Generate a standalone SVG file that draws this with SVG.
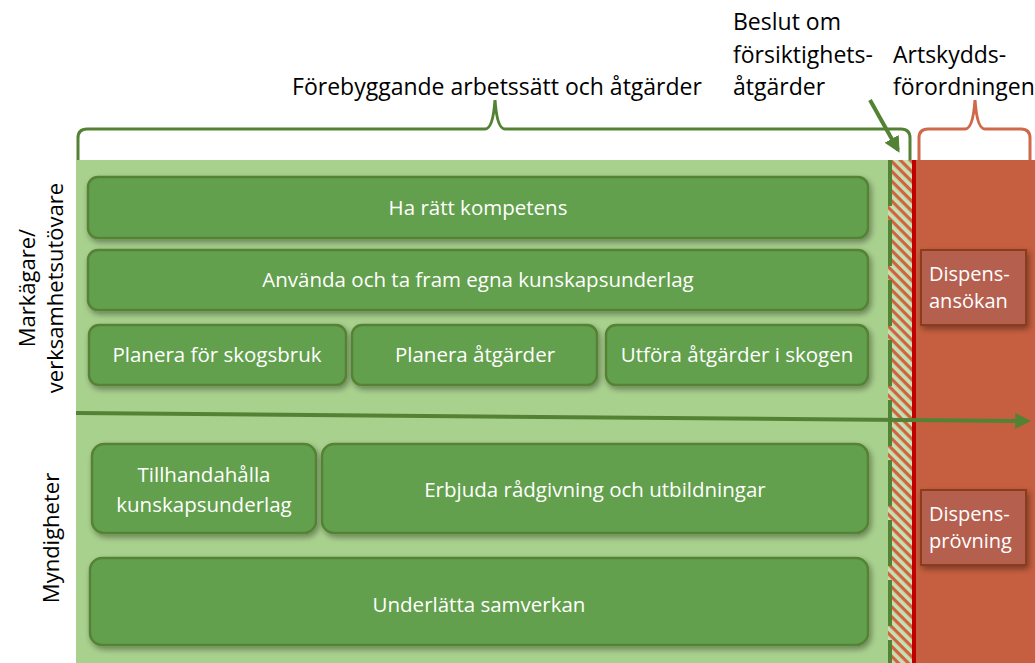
<svg xmlns="http://www.w3.org/2000/svg" width="1035" height="663" viewBox="0 0 1035 663">
<defs>
<style>
.t{font-family:"Open Sans","Liberation Sans",sans-serif;font-size:23px;fill:#000}
.r{font-family:"Open Sans","Liberation Sans",sans-serif;font-size:22px;fill:#000;text-anchor:middle}
.bt{font-family:"Open Sans","Liberation Sans",sans-serif;font-size:20.5px;fill:#fff;text-anchor:middle}
.dt{font-family:"Open Sans","Liberation Sans",sans-serif;font-size:20px;fill:#fff}
.box{fill:#63a04d;stroke:#548235;stroke-width:2.5;filter:url(#sh)}
.dbox{fill:#b5604f;stroke:#8c3a1e;stroke-width:2;filter:url(#sh)}
</style>
<filter id="sh" x="-10%" y="-20%" width="120%" height="150%">
<feGaussianBlur in="SourceAlpha" stdDeviation="3"/>
<feOffset dx="2" dy="3" result="b"/>
<feComponentTransfer><feFuncA type="linear" slope="0.4"/></feComponentTransfer>
<feMerge><feMergeNode/><feMergeNode in="SourceGraphic"/></feMerge>
</filter>
<pattern id="hatch" patternUnits="userSpaceOnUse" width="7" height="7" patternTransform="rotate(45)">
<rect width="7" height="7" fill="#c5e0b4"/>
<rect width="7" height="3.2" fill="#d0643f"/>
</pattern>
<marker id="ag" viewBox="0 0 10 10" refX="8" refY="5" markerWidth="4" markerHeight="4" orient="auto" markerUnits="strokeWidth">
<path d="M0,0 L10,5 L0,10 z" fill="#548235"/>
</marker>
</defs>
<g id="background">
<rect x="76" y="160" width="812" height="503" fill="#a9d18e"/>
<rect x="888" y="160" width="24" height="503" fill="url(#hatch)"/>
<rect x="912" y="160" width="4" height="503" fill="#c00000"/>
<rect x="916" y="160" width="119" height="503" fill="#c65f3f"/>
<line x1="890" y1="160" x2="890" y2="663" stroke="#548235" stroke-width="4" stroke-dasharray="46,14"/>
</g>
<g id="braces" fill="none" stroke-width="3">
<path d="M78,160 L78,138 Q78,129 87,129 L485,129 Q493,129 495,100 Q497,129 505,129 L901,129 Q910,129 910,138 L910,160" stroke="#548235"/>
<path d="M919,160 L919,138 Q919,129 928,129 L965,129 Q973,129 975,100 Q977,129 985,129 L1021,129 Q1030,129 1030,138 L1030,160" stroke="#d0694a"/>
</g>
<g id="labels">
<text class="t" x="497" y="95" text-anchor="middle">Förebyggande arbetssätt och åtgärder</text>
<text class="t" x="733" y="30">Beslut om</text>
<text class="t" x="733" y="63">försiktighets-</text>
<text class="t" x="733" y="95">åtgärder</text>
<text class="t" x="893" y="63">Artskydds-</text>
<text class="t" x="893" y="95">förordningen</text>
<text class="r" transform="translate(35,288) rotate(-90)">Markägare/</text>
<text class="r" transform="translate(63,288) rotate(-90)">verksamhetsutövare</text>
<text class="r" transform="translate(59,538) rotate(-90)">Myndigheter</text>
</g>
<g id="connectors">
<line x1="76" y1="413" x2="1028" y2="421" stroke="#548235" stroke-width="4" marker-end="url(#ag)"/>
<line x1="870" y1="100" x2="898" y2="150" stroke="#548235" stroke-width="4" marker-end="url(#ag)"/>
</g>
<g id="n1"><rect class="box" x="88" y="177" width="780" height="61" rx="10"/><text class="bt" x="478" y="215">Ha rätt kompetens</text></g>
<g id="n2"><rect class="box" x="88" y="250" width="780" height="60" rx="10"/><text class="bt" x="478" y="287">Använda och ta fram egna kunskapsunderlag</text></g>
<g id="n3"><rect class="box" x="89" y="325" width="257" height="60" rx="10"/><text class="bt" x="217" y="362">Planera för skogsbruk</text></g>
<g id="n4"><rect class="box" x="352" y="325" width="245" height="60" rx="10"/><text class="bt" x="475" y="362">Planera åtgärder</text></g>
<g id="n5"><rect class="box" x="606" y="325" width="262" height="60" rx="10"/><text class="bt" x="737" y="362">Utföra åtgärder i skogen</text></g>
<g id="n6"><rect class="box" x="92" y="444" width="224" height="89" rx="12"/><text class="bt" x="204" y="482">Tillhandahålla</text><text class="bt" x="204" y="512">kunskapsunderlag</text></g>
<g id="n7"><rect class="box" x="322" y="444" width="546" height="89" rx="12"/><text class="bt" x="595" y="497">Erbjuda rådgivning och utbildningar</text></g>
<g id="n8"><rect class="box" x="90" y="558" width="778" height="87" rx="12"/><text class="bt" x="479" y="612">Underlätta samverkan</text></g>
<g id="n9"><rect class="dbox" x="921" y="250" width="105" height="75"/><text class="dt" x="929" y="281">Dispens-</text><text class="dt" x="929" y="308">ansökan</text></g>
<g id="n10"><rect class="dbox" x="921" y="490" width="105" height="75"/><text class="dt" x="929" y="521">Dispens-</text><text class="dt" x="929" y="548">prövning</text></g>
</svg>
